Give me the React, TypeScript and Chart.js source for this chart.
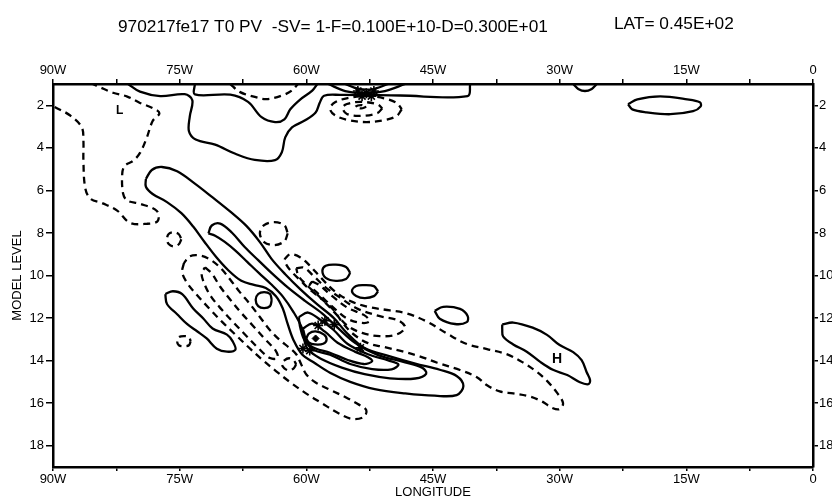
import React, { useEffect, useRef } from 'react';
import { Chart, registerables } from 'chart.js';

Chart.register(...registerables);

const TITLE = '970217fe17 T0 PV  -SV= 1-F=0.100E+10-D=0.300E+01';
const SUBTITLE = 'LAT= 0.45E+02';
const X_TITLE = 'LONGITUDE';
const Y_TITLE = 'MODEL LEVEL';

const X_TICKS = [-90, -82.5, -75, -67.5, -60, -52.5, -45, -37.5, -30, -22.5, -15, -7.5, 0];
const X_TICK_LABELS = ['90W', '', '75W', '', '60W', '', '45W', '', '30W', '', '15W', '', '0'];
const Y_TICKS = [2, 4, 6, 8, 10, 12, 14, 16, 18];
const Y_TICK_LABELS = ['2', '4', '6', '8', '10', '12', '14', '16', '18'];

type P = [number, number]; // [longitude (deg, negative = W), model level]

// ---------- positive contours (solid) ----------
const posTopOuter: P[] = [[-81.1, 1.0], [-79.7, 1.36], [-77.3, 1.57], [-74.4, 1.48], [-73.5, 1.76], [-73.8, 2.52], [-73.9, 3.22], [-73.1, 3.61], [-70.8, 3.85], [-68.4, 4.28], [-66.1, 4.57], [-63.7, 4.58], [-62.9, 4.21], [-62.5, 3.51], [-61.7, 3.04], [-60.2, 2.72], [-58.9, 2.34], [-58.4, 1.87], [-57.9, 1.55], [-56.0, 1.51], [-48.9, 1.54], [-40.9, 1.57], [-40.6, 1.0]];
const posTopInner: P[] = [[-73.2, 1.0], [-73.2, 1.49], [-69.0, 1.5], [-66.9, 1.84], [-65.3, 2.56], [-63.7, 2.79], [-62.6, 2.66], [-61.9, 2.19], [-60.7, 1.72], [-59.3, 1.31], [-58.7, 1.0]];
const posTopLens1: P[] = [[-57.4, 1.0], [-55.4, 1.33], [-53.1, 1.42], [-50.7, 1.33], [-48.3, 1.0]];
const posTopLens2: P[] = [[-55.4, 1.0], [-53.9, 1.22], [-52.2, 1.25], [-50.3, 1.0]];
const posTopRightCap: P[] = [[-28.4, 1.0], [-27.8, 1.23], [-27.0, 1.33], [-26.2, 1.23], [-25.6, 1.0]];

const posTopRightCell: P[] = [[-21.9, 1.95], [-20.8, 1.72], [-18.1, 1.58], [-14.9, 1.72], [-13.4, 1.86], [-13.3, 2.05], [-14.2, 2.28], [-16.9, 2.42], [-19.7, 2.33], [-21.4, 2.19]];
const posBandOuter: P[] = [[-79.0, 5.46], [-78.3, 5.04], [-77.1, 4.9], [-75.3, 5.1], [-73.2, 5.68], [-71.1, 6.33], [-69.0, 7.0], [-67.1, 7.67], [-65.5, 8.43], [-64.1, 9.23], [-62.5, 9.94], [-60.7, 10.65], [-58.7, 11.36], [-56.8, 11.98], [-55.2, 12.7], [-53.1, 13.41], [-50.1, 13.8], [-47.1, 14.14], [-44.2, 14.43], [-42.2, 14.72], [-41.4, 15.19], [-42.2, 15.62], [-44.8, 15.65], [-48.3, 15.54], [-51.9, 15.34], [-54.8, 15.0], [-57.2, 14.57], [-59.1, 14.09], [-60.5, 13.71], [-61.5, 13.05], [-62.2, 12.29], [-62.8, 11.54], [-63.6, 10.97], [-64.8, 10.59], [-66.2, 10.44], [-67.7, 10.25], [-69.3, 9.73], [-70.7, 9.12], [-72.1, 8.4], [-73.4, 7.7], [-74.8, 7.07], [-76.5, 6.55], [-78.2, 6.17], [-79.0, 5.83]];
const posBandInner: P[] = [[-71.6, 8.02], [-71.2, 7.65], [-70.2, 7.56], [-68.8, 7.99], [-67.3, 8.66], [-65.7, 9.28], [-64.1, 9.89], [-62.2, 10.56], [-60.2, 11.18], [-58.1, 11.79], [-56.3, 12.45], [-54.2, 13.17], [-51.5, 13.74], [-48.3, 14.08], [-46.3, 14.33], [-45.8, 14.61], [-47.1, 14.84], [-50.1, 14.83], [-53.1, 14.64], [-55.8, 14.33], [-58.1, 13.95], [-59.9, 13.43], [-60.5, 12.49], [-61.5, 11.73], [-62.8, 10.98], [-64.2, 10.4], [-65.6, 9.89], [-67.0, 9.36], [-68.4, 8.83], [-69.7, 8.41], [-70.8, 8.13]];
const posCore3: P[] = [[-60.9, 11.96], [-59.8, 11.74], [-58.4, 12.07], [-56.8, 12.55], [-55.1, 13.22], [-52.7, 13.7], [-50.3, 13.99], [-49.1, 14.18], [-49.9, 14.41], [-52.2, 14.4], [-54.8, 14.16], [-57.2, 13.72], [-59.1, 13.5], [-60.2, 13.05], [-60.7, 12.48]];
const posCore4: P[] = [[-60.4, 12.49], [-59.3, 12.26], [-57.8, 12.64], [-56.3, 13.16], [-54.2, 13.59], [-52.7, 13.84], [-52.2, 14.03], [-53.2, 14.16], [-55.1, 13.97], [-57.2, 13.63], [-58.9, 13.43], [-59.9, 13.15]];
const posCore5: P[] = [[-60.0, 12.96], [-59.7, 12.73], [-58.9, 12.63], [-57.9, 12.78], [-57.6, 13.02], [-58.0, 13.21], [-59.0, 13.24], [-59.7, 13.15]];
const posCell1: P[] = [[-64.1, 11.15], [-64.3, 11.44], [-65.0, 11.53], [-65.7, 11.44], [-66.0, 11.14], [-65.7, 10.87], [-65.0, 10.78], [-64.3, 10.87]];
const posCell2: P[] = [[-54.8, 9.88], [-55.3, 10.16], [-56.5, 10.25], [-57.7, 10.11], [-58.1, 9.78], [-57.7, 9.54], [-56.5, 9.49], [-55.3, 9.6]];
const posCell3: P[] = [[-51.5, 10.74], [-52.0, 10.97], [-53.1, 11.06], [-54.1, 10.96], [-54.6, 10.73], [-54.1, 10.49], [-53.1, 10.45], [-52.0, 10.5]];
const posCell4: P[] = [[-44.8, 11.66], [-43.8, 11.47], [-41.8, 11.57], [-40.9, 11.9], [-41.0, 12.19], [-42.4, 12.28], [-44.2, 12.03]];
const posLowBand: P[] = [[-76.7, 10.87], [-75.8, 10.74], [-74.7, 10.88], [-73.4, 11.55], [-72.2, 12.02], [-71.1, 12.49], [-69.4, 12.78], [-68.7, 13.11], [-68.4, 13.49], [-69.4, 13.58], [-70.6, 13.44], [-71.8, 12.96], [-72.9, 12.63], [-74.1, 12.29], [-75.3, 11.82], [-76.5, 11.34]];
const posHigh: P[] = [[-36.8, 12.3], [-35.5, 12.21], [-33.2, 12.45], [-31.5, 12.79], [-30.0, 13.27], [-28.4, 13.6], [-27.4, 13.98], [-26.8, 14.55], [-26.4, 14.92], [-26.6, 15.11], [-27.6, 15.02], [-29.1, 14.68], [-30.8, 14.43], [-32.3, 14.06], [-33.9, 13.58], [-35.5, 13.24], [-36.7, 12.86], [-36.8, 12.53]];

// ---------- negative contours (dashed) ----------
const negLeft: P[] = [[-89.8, 2.08], [-88.0, 2.47], [-86.6, 3.03], [-86.4, 3.65], [-86.4, 4.58], [-86.2, 5.85], [-85.6, 6.38], [-84.1, 6.61], [-82.4, 6.95], [-80.9, 7.52], [-78.9, 7.57], [-77.6, 7.44], [-77.7, 6.97], [-79.7, 6.63], [-81.2, 6.48], [-81.7, 6.15], [-81.8, 5.21], [-81.5, 4.84], [-80.5, 4.61], [-79.7, 4.24], [-78.9, 3.53], [-78.2, 2.74], [-77.4, 2.37], [-78.2, 2.13], [-79.7, 1.89], [-81.2, 1.59], [-82.9, 1.41], [-84.4, 1.16], [-85.3, 1.0]];
const negTopGap: P[] = [[-69.0, 1.0], [-67.9, 1.37], [-66.1, 1.61], [-64.7, 1.71], [-62.8, 1.53], [-61.7, 1.3], [-61.0, 1.0]];

const negTopRing1: P[] = [[-48.7, 2.19], [-49.3, 2.5], [-50.8, 2.7], [-52.9, 2.79], [-55.1, 2.69], [-56.6, 2.47], [-57.2, 2.16], [-56.6, 1.86], [-55.1, 1.66], [-52.9, 1.57], [-50.8, 1.67], [-49.3, 1.89]];
const negTopRing2: P[] = [[-51.0, 2.14], [-51.6, 2.37], [-53.6, 2.5], [-55.2, 2.41], [-55.7, 2.12], [-55.2, 1.94], [-53.6, 1.84], [-51.6, 1.95]];
const negTopRing3: P[] = [[-52.9, 2.07], [-53.5, 2.15], [-54.2, 2.07], [-53.5, 1.99]];
const negCell1: P[] = [[-74.8, 8.3], [-75.1, 8.53], [-75.7, 8.63], [-76.3, 8.52], [-76.5, 8.29], [-76.3, 8.05], [-75.7, 7.97], [-75.1, 8.06]];
const negCell2: P[] = [[-62.2, 8.02], [-62.6, 8.39], [-63.8, 8.57], [-65.0, 8.43], [-65.5, 8.01], [-65.0, 7.63], [-63.8, 7.49], [-62.6, 7.64]];
const negCell3: P[] = [[-73.7, 13.09], [-73.9, 13.28], [-74.5, 13.32], [-75.1, 13.28], [-75.3, 13.09], [-75.1, 12.9], [-74.5, 12.85], [-73.9, 12.9]];
const negCell4: P[] = [[-61.2, 14.17], [-61.5, 14.36], [-62.05, 14.46], [-62.6, 14.36], [-62.9, 14.17], [-62.6, 13.99], [-62.05, 13.89], [-61.5, 13.99]];
const negLowOuter: P[] = [[-74.5, 9.42], [-74.7, 9.85], [-74.1, 10.36], [-72.9, 10.94], [-71.5, 11.55], [-70.0, 12.17], [-68.4, 12.78], [-66.9, 13.35], [-65.3, 13.93], [-63.6, 14.49], [-61.9, 15.02], [-60.0, 15.55], [-58.1, 16.02], [-56.3, 16.45], [-54.6, 16.74], [-53.2, 16.65], [-52.9, 16.33], [-53.9, 16.04], [-55.4, 15.71], [-57.2, 15.37], [-58.9, 15.03], [-60.0, 14.65], [-60.6, 14.18], [-61.2, 13.7], [-62.1, 13.37], [-63.1, 13.05], [-64.3, 12.57], [-65.5, 11.95], [-66.7, 11.33], [-67.9, 10.77], [-69.0, 10.2], [-70.2, 9.63], [-71.4, 9.25], [-72.6, 9.06], [-73.8, 9.1]];
const negLowInner: P[] = [[-72.0, 9.62], [-71.2, 9.9], [-70.2, 10.53], [-69.0, 11.14], [-67.7, 11.76], [-66.3, 12.37], [-64.9, 12.99], [-63.6, 13.55], [-63.4, 13.88], [-64.3, 13.88], [-65.7, 13.41], [-67.1, 12.84], [-68.6, 12.22], [-70.0, 11.61], [-71.3, 10.98], [-72.1, 10.37], [-72.4, 9.9]];
const negLong: P[] = [[-62.6, 9.24], [-61.9, 9.0], [-60.7, 9.15], [-59.6, 9.53], [-58.4, 10.05], [-56.7, 10.72], [-54.8, 11.2], [-52.5, 11.49], [-50.1, 11.64], [-48.1, 11.78], [-45.7, 12.17], [-43.3, 12.74], [-41.0, 13.22], [-38.6, 13.46], [-36.2, 13.71], [-34.3, 14.1], [-32.7, 14.53], [-31.5, 14.95], [-30.3, 15.52], [-29.6, 16.0], [-30.0, 16.28], [-30.9, 16.22], [-32.0, 15.94], [-33.5, 15.69], [-35.5, 15.54], [-37.1, 15.45], [-38.6, 15.16], [-39.8, 14.78], [-41.8, 14.44], [-44.5, 14.1], [-46.5, 13.81], [-48.6, 13.57], [-50.7, 13.37], [-52.7, 13.18], [-54.6, 12.7], [-55.8, 12.17], [-56.8, 11.61], [-58.1, 11.13], [-59.6, 10.66], [-60.7, 10.23], [-61.8, 9.8], [-62.4, 9.47]];
const negMid2: P[] = [[-61.2, 9.66], [-60.3, 9.63], [-59.2, 10.0], [-57.8, 10.53], [-56.0, 11.04], [-53.9, 11.57], [-51.3, 11.91], [-49.1, 12.11], [-48.3, 12.44], [-49.3, 12.77], [-51.3, 12.85], [-53.4, 12.7], [-55.1, 12.37], [-56.3, 11.89], [-57.4, 11.42], [-58.6, 10.94], [-59.9, 10.47], [-60.9, 10.04]];
const negMid3: P[] = [[-59.3, 10.28], [-58.4, 10.47], [-57.0, 10.95], [-55.1, 11.52], [-53.2, 11.85], [-52.5, 12.15], [-53.4, 12.23], [-55.1, 12.04], [-56.5, 11.61], [-57.8, 11.14], [-58.9, 10.75], [-59.6, 10.47]];

// dense-gradient spots (drawn as star marks) and the maximum marker
const denseSpots: P[] = [[-57.8, 12.13], [-56.7, 12.31], [-58.6, 12.35], [-60.4, 13.43], [-59.6, 13.53], [-53.6, 13.4], [-53.9, 1.33], [-52.9, 1.43], [-52.0, 1.33], [-53.4, 1.57], [-52.3, 1.57]];
const maxMark: P[] = [[-58.9, 12.96]];

const LABEL_L = { text: 'L', lon: -82.1, level: 2.25 };
const LABEL_H = { text: 'H', lon: -30.3, level: 13.95 };

const SOLID_OPEN = [posTopOuter, posTopInner, posTopLens1, posTopLens2, posTopRightCap];
const SOLID_CLOSED = [posTopRightCell, posBandOuter, posBandInner, posCore3, posCore4, posCore5, posCell1, posCell2, posCell3, posCell4, posLowBand, posHigh];
const DASH_OPEN = [negLeft, negTopGap];
const DASH_CLOSED = [negTopRing1, negTopRing2, negTopRing3, negCell1, negCell2, negCell3, negCell4, negLowOuter, negLowInner, negLong, negMid2, negMid3];

const FONT_FAMILY = '"Liberation Sans", Arial, Helvetica, sans-serif';

function toXY(pts: P[], closed: boolean) {
  const arr = closed ? [...pts, pts[0]] : pts;
  return arr.map(([x, y]) => ({ x, y }));
}

function lineDataset(pts: P[], closed: boolean, dashed: boolean) {
  return {
    data: toXY(pts, closed),
    showLine: true,
    borderColor: '#000',
    borderWidth: 2.3,
    borderDash: dashed ? [7, 5] : [],
    pointRadius: 0,
    pointHoverRadius: 0,
    tension: 0.35,
    fill: false,
  };
}

const annotationPlugin = {
  id: 'annotations',
  afterDraw(chart: any) {
    const { ctx, scales } = chart;
    ctx.save();
    ctx.fillStyle = '#000';
    ctx.textBaseline = 'alphabetic';
    ctx.textAlign = 'left';
    ctx.font = `17.3px ${FONT_FAMILY}`;
    ctx.fillText(TITLE, 118, 32);
    ctx.fillText(SUBTITLE, 614, 29);
    ctx.textAlign = 'center';
    ctx.textBaseline = 'middle';
    ctx.font = `bold 12px ${FONT_FAMILY}`;
    ctx.fillText(LABEL_L.text, scales.x.getPixelForValue(LABEL_L.lon), scales.y.getPixelForValue(LABEL_L.level));
    ctx.font = `bold 14px ${FONT_FAMILY}`;
    ctx.fillText(LABEL_H.text, scales.x.getPixelForValue(LABEL_H.lon), scales.y.getPixelForValue(LABEL_H.level));
    ctx.restore();
  },
};

export default function App() {
  const canvasRef = useRef<HTMLCanvasElement | null>(null);

  useEffect(() => {
    const canvas = canvasRef.current;
    if (!canvas) return;

    const datasets: any[] = [];
    SOLID_OPEN.forEach((p) => datasets.push(lineDataset(p, false, false)));
    SOLID_CLOSED.forEach((p) => datasets.push(lineDataset(p, true, false)));
    DASH_OPEN.forEach((p) => datasets.push(lineDataset(p, false, true)));
    DASH_CLOSED.forEach((p) => datasets.push(lineDataset(p, true, true)));
    datasets.push({
      data: toXY(denseSpots, false),
      showLine: false,
      pointStyle: 'star',
      pointRadius: 5,
      borderColor: '#000',
      borderWidth: 1.6,
      backgroundColor: '#000',
    });
    datasets.push({
      data: toXY(maxMark, false),
      showLine: false,
      pointStyle: 'rectRot',
      pointRadius: 3.5,
      borderColor: '#000',
      borderWidth: 1,
      backgroundColor: '#000',
    });

    const tickFont = { family: FONT_FAMILY, size: 13 };
    const xTickCfg = (padding: number) => ({
      font: tickFont,
      color: '#000',
      padding,
      maxRotation: 0,
      autoSkip: false,
      callback: (_v: any, i: number) => X_TICK_LABELS[i] ?? '',
    });
    const yTickCfg = (padding: number) => ({
      font: tickFont,
      color: '#000',
      padding,
      autoSkip: false,
      callback: (_v: any, i: number) => Y_TICK_LABELS[i] ?? '',
    });
    const border = { display: true, color: '#000', width: 2.5 };

    const chart = new Chart(canvas, {
      type: 'scatter',
      data: { datasets },
      options: {
        responsive: false,
        animation: false,
        devicePixelRatio: 1,
        layout: { padding: 0 },
        plugins: { legend: { display: false }, tooltip: { enabled: false }, title: { display: false } },
        scales: {
          x: {
            type: 'linear',
            position: 'bottom',
            min: -90,
            max: 0,
            afterBuildTicks: (s: any) => { s.ticks = X_TICKS.map((v) => ({ value: v })); },
            afterFit: (s: any) => { s.height = 33; },
            ticks: xTickCfg(1),
            grid: { drawOnChartArea: false, drawTicks: true, tickLength: 4, color: '#000', lineWidth: 1.5 },
            border,
            title: { display: true, text: X_TITLE, color: '#000', font: tickFont, padding: { top: 0, bottom: 0 } },
          },
          x2: {
            type: 'linear',
            position: 'top',
            min: -90,
            max: 0,
            afterBuildTicks: (s: any) => { s.ticks = X_TICKS.map((v) => ({ value: v })); },
            afterFit: (s: any) => { s.height = 84; },
            ticks: xTickCfg(1),
            grid: { drawOnChartArea: false, drawTicks: true, tickLength: 5, color: '#000', lineWidth: 1.5 },
            border,
          },
          y: {
            type: 'linear',
            position: 'left',
            min: 1,
            max: 19,
            reverse: true,
            afterBuildTicks: (s: any) => { s.ticks = Y_TICKS.map((v) => ({ value: v })); },
            afterFit: (s: any) => { s.width = 53; },
            ticks: yTickCfg(2),
            grid: { drawOnChartArea: false, drawTicks: true, tickLength: 7, color: '#000', lineWidth: 1.5 },
            border,
            title: { display: true, text: Y_TITLE, color: '#000', font: tickFont, padding: { top: 10, bottom: 0 } },
          },
          y2: {
            type: 'linear',
            position: 'right',
            min: 1,
            max: 19,
            reverse: true,
            afterBuildTicks: (s: any) => { s.ticks = Y_TICKS.map((v) => ({ value: v })); },
            afterFit: (s: any) => { s.width = 19; },
            ticks: yTickCfg(1),
            grid: { drawOnChartArea: false, drawTicks: true, tickLength: 5, color: '#000', lineWidth: 1.5 },
            border,
          },
        },
      } as any,
      plugins: [annotationPlugin],
    });

    return () => chart.destroy();
  }, []);

  return (
    <div style={{ position: 'absolute', left: 0, top: 0, width: 832, height: 500, background: '#fff' }}>
      <canvas ref={canvasRef} width={832} height={500} style={{ display: 'block' }} />
    </div>
  );
}
